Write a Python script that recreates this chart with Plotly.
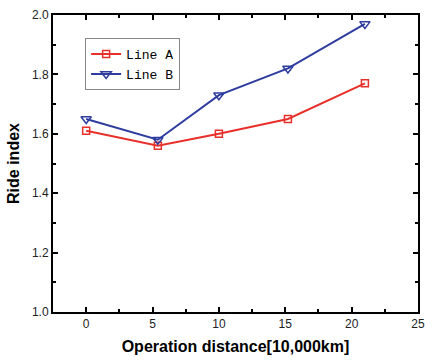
import plotly.graph_objects as go

x_a = [0, 5.4, 10, 15.2, 21]
y_a = [1.61, 1.56, 1.60, 1.65, 1.77]
x_b = [0, 5.4, 10, 15.2, 21]
y_b = [1.65, 1.58, 1.73, 1.82, 1.97]

fig = go.Figure()
fig.add_trace(go.Scatter(x=x_a, y=y_a, name="Line A", mode="lines+markers",
                         line=dict(color="#e8302a", width=2),
                         marker=dict(symbol="square-open", size=7, color="#e8302a", line=dict(width=1.5))))
fig.add_trace(go.Scatter(x=x_b, y=y_b, name="Line B", mode="lines+markers",
                         line=dict(color="#2e3d9e", width=2),
                         marker=dict(symbol="triangle-down-open", size=9, color="#2e3d9e", line=dict(width=1.5))))

axis_common = dict(showline=True, linecolor="black", linewidth=2, mirror="allticks",
                   ticks="inside", ticklen=5, tickwidth=2, tickcolor="black",
                   showgrid=False, zeroline=False,
                   tickfont=dict(family="Liberation Sans", size=12, color="#222"))

fig.update_layout(
    width=433, height=361,
    margin=dict(l=53, r=8, t=13, b=49),
    plot_bgcolor="white", paper_bgcolor="white",
    xaxis=dict(range=[-2.5, 25], tickvals=[0, 5, 10, 15, 20, 25],
               minor=dict(ticks="inside", ticklen=3, tickwidth=2, tickcolor="black", dtick=2.5, tick0=0),
               title=dict(text="<b>Operation distance[10,000km]</b>", font=dict(family="Liberation Sans", size=16, color="black"), standoff=10),
               **axis_common),
    yaxis=dict(range=[1.0, 2.0], tickvals=[1.0, 1.2, 1.4, 1.6, 1.8, 2.0], tickformat=".1f",
               minor=dict(ticks="inside", ticklen=3, tickwidth=2, tickcolor="black", dtick=0.1, tick0=1.0),
               title=dict(text="<b>Ride index</b>", font=dict(family="Liberation Sans", size=16, color="black"), standoff=8),
               **axis_common),
    legend=dict(x=0.088, y=0.922, xanchor="left", yanchor="top",
                bordercolor="#888", borderwidth=1, bgcolor="white",
                font=dict(family="Liberation Mono", size=13, color="black"),
                tracegroupgap=0, itemwidth=30),
    showlegend=True,
)

fig.write_html("out.html")
